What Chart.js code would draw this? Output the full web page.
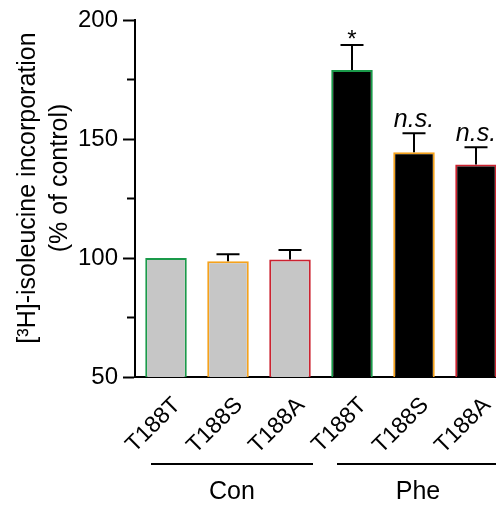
<!DOCTYPE html>
<html lang="en">
<head>
    <meta charset="UTF-8">
    <title>Isoleucine incorporation</title>
    <script src="https://cdn.jsdelivr.net/npm/chart.js"></script>
    <style>
        html, body {
            margin: 0;
            padding: 0;
            background: #fff;
            overflow: hidden;
        }
        #wrap {
            width: 507px;
            height: 506px;
        }
    </style>
</head>
<body>
    <div id="wrap">
        <canvas id="chart" width="507" height="506"></canvas>
    </div>

    <script>
        // Data
        const categories = ['T188T', 'T188S', 'T188A', 'T188T', 'T188S', 'T188A'];
        const values = [100, 98.6, 99.4, 179, 144.4, 139.3];
        const errors = [0, 3, 4, 10.5, 8, 7.2];
        const marks = ['', '', '', '*', 'n.s.', 'n.s.'];
        const groupLabels = ['Con', 'Phe'];
        const groupStart = [0, 3];
        const groupEnd = [2, 5];
        const minorTicks = [75, 125, 175];
        const yTitle = ['[³H]-isoleucine incorporation', '(% of control)'];

        const borderColors = ['#1a9a4a', '#f5a21c', '#cc2230', '#1a9a4a', '#f5a21c', '#cc2230'];
        const fillColors = ['#c6c6c6', '#c6c6c6', '#c6c6c6', '#000000', '#000000', '#000000'];

        const FONT = "'Liberation Sans', Arial, sans-serif";

        // error bars, minor ticks, significance marks, group brackets, y title
        const extras = {
            id: 'extras',
            afterDatasetsDraw(chart) {
                const ctx = chart.ctx;
                const x = chart.scales.x;
                const y = chart.scales.y;
                const meta = chart.getDatasetMeta(0);
                ctx.save();
                ctx.strokeStyle = '#000';
                ctx.fillStyle = '#000';
                ctx.lineWidth = 2;

                // error bars (upper only)
                values.forEach((v, i) => {
                    if (!errors[i]) return;
                    const cx = meta.data[i].x;
                    const yTop = y.getPixelForValue(v + errors[i]);
                    const yBar = y.getPixelForValue(v);
                    ctx.beginPath();
                    ctx.moveTo(cx, yBar);
                    ctx.lineTo(cx, yTop);
                    ctx.moveTo(cx - 11.5, yTop);
                    ctx.lineTo(cx + 11.5, yTop);
                    ctx.stroke();
                });

                // marks above the error bars
                ctx.textAlign = 'center';
                ctx.textBaseline = 'alphabetic';
                marks.forEach((m, i) => {
                    if (!m) return;
                    const cx = meta.data[i].x;
                    const yTop = y.getPixelForValue(values[i] + errors[i]);
                    if (m === '*') {
                        ctx.font = '24px ' + FONT;
                        ctx.fillText(m, cx, yTop + 2);
                    } else {
                        ctx.font = 'italic 25px ' + FONT;
                        ctx.fillText(m, cx, yTop - 6);
                    }
                });

                // minor y ticks
                minorTicks.forEach(t => {
                    const py = y.getPixelForValue(t);
                    ctx.beginPath();
                    ctx.moveTo(x.left - 8, py);
                    ctx.lineTo(x.left, py);
                    ctx.stroke();
                });

                // group brackets under the x labels
                ctx.font = '25px ' + FONT;
                ctx.textBaseline = 'middle';
                groupLabels.forEach((g, i) => {
                    const x0 = x.getPixelForValue(groupStart[i]) - 15;
                    const x1 = x.getPixelForValue(groupEnd[i]) + 23;
                    ctx.beginPath();
                    ctx.moveTo(x0, 464);
                    ctx.lineTo(x1, 464);
                    ctx.stroke();
                    ctx.fillText(g, (x0 + x1) / 2, 492);
                });

                // y axis title, two lines
                ctx.font = '25px ' + FONT;
                ctx.save();
                ctx.translate(28, 188);
                ctx.rotate(-Math.PI / 2);
                ctx.fillText(yTitle[0], 0, 0);
                ctx.restore();
                ctx.save();
                ctx.translate(60, 178);
                ctx.rotate(-Math.PI / 2);
                ctx.fillText(yTitle[1], 0, 0);
                ctx.restore();

                ctx.restore();
            }
        };

        new Chart(document.getElementById('chart'), {
            type: 'bar',
            data: {
                labels: categories,
                datasets: [{
                    data: values,
                    backgroundColor: fillColors,
                    borderColor: borderColors,
                    borderWidth: 2,
                    borderSkipped: 'bottom',
                    barPercentage: 0.67,
                    categoryPercentage: 1
                }]
            },
            options: {
                responsive: false,
                animation: false,
                layout: { padding: { top: 20, right: 0, bottom: 0, left: 0 } },
                plugins: {
                    legend: { display: false },
                    tooltip: { enabled: false }
                },
                scales: {
                    x: {
                        grid: { display: false },
                        border: { display: true, color: '#000', width: 2 },
                        ticks: {
                            color: '#000',
                            font: { family: FONT, size: 23 },
                            minRotation: 45,
                            maxRotation: 45,
                            labelOffset: 11,
                            padding: 7
                        },
                        afterFit(scale) { scale.height = 129; }
                    },
                    y: {
                        min: 50,
                        max: 200,
                        border: { display: true, color: '#000', width: 2 },
                        grid: {
                            drawOnChartArea: false,
                            tickLength: 12,
                            tickColor: '#000',
                            tickWidth: 2
                        },
                        ticks: {
                            stepSize: 50,
                            color: '#000',
                            padding: 5,
                            font: { family: FONT, size: 24 }
                        },
                        afterFit(scale) { scale.width = 135; }
                    }
                }
            },
            plugins: [extras]
        });
    </script>
</body>
</html>
